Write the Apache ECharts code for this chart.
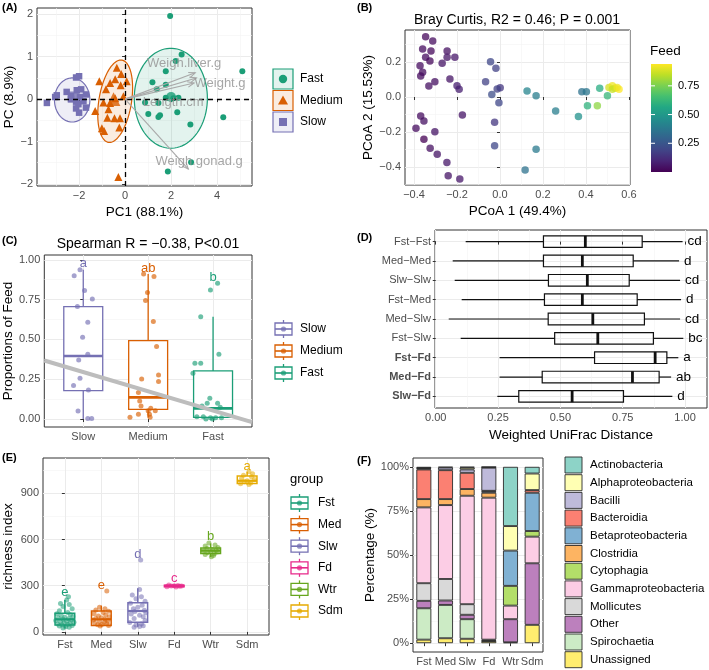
<!DOCTYPE html>
<html><head><meta charset="utf-8">
<script src="https://cdn.jsdelivr.net/npm/echarts@6/dist/echarts.min.js"></script>
<style>html,body{margin:0;padding:0;background:#fff}#c{width:709px;height:670px}</style>
</head><body><div id="c"></div>
<script>
// ================= DATA =================
// Panel A (PCA)
const aGroups = ['Fast', 'Medium', 'Slow'];
const aFast = [[1.96,1.96],[2.46,1.05],[2.2,0.9],[1.77,0.66],[5.1,0.66],[1.19,0.4],[1.77,0.34],[1.38,0.23],[1.77,0.03],[2.1,0.02],[2.32,0.03],[0.87,-0.08],[1.45,-0.09],[1.01,-0.35],[1.45,-0.42],[1.52,-0.38],[2.27,-0.31],[4.27,-0.43],[2.84,-0.6],[2.87,-1.49],[1.86,-1.71]];
const aMedium = [[-0.36,0.74],[-0.17,0.59],[0.07,0.42],[-0.43,0.47],[-1.12,0.42],[-0.65,0.38],[-0.19,0.33],[-0.83,0.23],[-0.43,0.02],[-0.94,-0.08],[-0.07,0.07],[-1.3,-0.28],[-0.72,-0.24],[-0.46,-0.45],[-0.77,-0.44],[-0.22,-0.45],[-0.25,-0.67],[-1.01,-0.69],[-0.91,-0.75],[-0.29,-1.84],[-0.65,-0.09]];
const aSlow = [[-3.4,-0.09],[-2.97,0.09],[-3.04,0.05],[-2.54,0.17],[-2.35,0.07],[-2.13,0.51],[-2.0,0.54],[-2.1,0.21],[-1.91,0.23],[-1.96,0.05],[-1.7,0.11],[-2.13,-0.06],[-1.81,-0.05],[-2.03,-0.12],[-1.7,-0.2],[-2.13,-0.22],[-2.0,-0.32],[-2.35,0.0]];
const aCentroids = [[2.0,0.05],[-0.5,0.0],[-2.25,0.05]];
// ellipses: center x, center y, semi-axis u (x,y), semi-axis v (x,y)
const aEllipses = [[1.99,0.02,1.59,0.0,0.0,1.18],[-0.43,-0.05,0.29,0.97,0.70,-0.06],[-2.3,-0.02,0.77,0.0,0.0,0.52]];
const aVarNames = ['Weigh.liver.g','Weight.g','Length.cm','Weigh.gonad.g'];
const aArrowEnds = [[3.05,0.62],[3.1,0.5],[3.0,0.38],[2.75,-1.65]];
const aLabelPos = [[2.57,0.85],[4.13,0.38],[2.09,-0.07],[3.22,-1.48]];

// Panel B (PCoA)
const bPC1 = [-0.346,-0.313,-0.36,-0.321,-0.246,-0.346,-0.246,-0.21,-0.326,-0.269,-0.372,-0.36,-0.369,-0.303,-0.233,-0.331,-0.2,-0.19,-0.044,-0.019,-0.067,0.001,-0.013,-0.038,-0.005,-0.175,-0.369,-0.354,-0.391,-0.303,-0.354,-0.025,-0.325,-0.292,-0.025,-0.247,0.126,0.168,0.168,0.117,0.259,0.365,0.381,0.402,0.464,0.407,0.453,0.5,0.507,0.523,0.535,0.554,0.523,0.545,-0.241,-0.187];
const bPC2 = [0.345,0.32,0.274,0.263,0.263,0.227,0.227,0.227,0.206,0.193,0.179,0.141,0.12,0.087,0.103,0.063,0.065,0.044,0.202,0.164,0.087,0.053,0.046,0.015,-0.033,-0.103,-0.109,-0.137,-0.179,-0.198,-0.242,-0.145,-0.293,-0.327,-0.278,-0.375,0.034,0.007,-0.299,-0.417,-0.08,-0.112,0.03,0.03,0.05,-0.05,-0.05,0.007,0.055,0.065,0.05,0.044,0.044,0.055,-0.45,-0.469];
const bFeed = [0.02,0.03,0.03,0.02,0.04,0.03,0.05,0.06,0.02,0.05,0.03,0.03,0.03,0.04,0.05,0.04,0.08,0.08,0.2,0.18,0.18,0.15,0.18,0.22,0.2,0.05,0.03,0.04,0.03,0.05,0.0,0.15,0.04,0.05,0.2,0.06,0.42,0.4,0.38,0.35,0.4,0.47,0.35,0.37,0.58,0.6,0.78,0.62,0.88,0.92,0.9,0.94,0.86,0.92,0.05,0.06];
const bFeedTicks = [0.25, 0.5, 0.75];

// Panel C (feed proportions)
const cCats = ['Slow','Medium','Fast'];
const cSlowVals = [0.90,0.937,0.807,0.753,0.706,0.608,0.514,0.407,0.371,0.256,0.21,0.182,0.05,0.004,0.004];
const cSlowJit  = [-0.14,-0.05,0.02,0.14,-0.09,0.07,-0.01,0.07,-0.07,-0.05,-0.15,0.08,-0.08,0.07,0.13];
const cMedVals = [0.91,0.895,0.794,0.744,0.612,0.455,0.252,0.277,0.235,0.166,0.113,0.082,0.067,0.052,0.052,0.03,0.03,0.011,0.011];
const cMedJit  = [-0.07,0.09,-0.01,-0.04,0.08,0.13,-0.1,0.16,0.16,-0.15,-0.13,-0.11,0.04,0.11,0.0,-0.15,0.02,-0.28,0.03];
const cFastVals = [0.853,0.811,0.643,0.407,0.35,0.35,0.287,0.13,0.099,0.099,0.082,0.074,0.015,0.015,0.008,0.008,0.008,0.0,0.0];
const cFastJit  = [0.07,-0.04,-0.19,0.09,-0.28,-0.19,-0.31,-0.05,-0.09,0.07,-0.17,0.11,-0.25,-0.15,-0.04,0.04,0.13,-0.11,-0.01];
// min, Q1, median, Q3, max
const cBoxes = [[0.0,0.178,0.396,0.706,0.937],[0.01,0.061,0.136,0.492,0.91],[0.0,0.011,0.067,0.302,0.643]];
const cLetters = ['a','ab','b'];
const cLetterY = [0.975,0.947,0.89];
const cFitIntercept = 0.295, cFitSlope = -0.121;

// Panel D (UniFrac)
const dCats = ['Fst−Fst','Med−Med','Slw−Slw','Fst−Med','Med−Slw','Fst−Slw','Fst−Fd','Med−Fd','Slw−Fd'];
const dBold = [false,false,false,false,false,false,true,true,true];
const dMin = [0.12,0.068,0.076,0.104,0.052,0.1,0.256,0.256,0.247];
const dQ1  = [0.432,0.432,0.452,0.436,0.451,0.477,0.637,0.427,0.333];
const dMed = [0.60,0.588,0.608,0.588,0.63,0.65,0.88,0.789,0.547];
const dQ3  = [0.828,0.792,0.776,0.808,0.837,0.873,0.927,0.896,0.753];
const dMax = [0.99,0.976,0.98,0.984,0.98,0.993,0.973,0.944,0.949];
const dLetters = ['cd','d','cd','d','cd','bc','a','ab','d'];

// Panel E (richness)
const eCats = ['Fst','Med','Slw','Fd','Wtr','Sdm'];
const eBoxes = [[24,45,82,121,208],[35,41,82,136,171],[34,63,136,190,284],[288,294,300,304,310],[487,510,528,545,575],[958,965,982,1013,1040]];
const eLetters = ['e','e','d','c','b','a'];
const eLetterY = [255,305,506,349,623,1073];
const eFstVals = [229,208,185,178,165,150,138,126,118,112,106,100,95,90,86,82,78,74,70,66,63,60,56,52,49,46,42,38,34,30,26];
const eFstJit  = [0.1,0.05,-0.12,0.12,-0.05,0.2,-0.15,0.08,-0.22,0.15,-0.1,0.22,0.0,-0.18,0.1,-0.05,0.18,-0.25,0.05,-0.12,0.25,-0.02,0.14,-0.2,0.08,-0.08,0.2,-0.15,0.02,0.12,-0.05];
const eMedVals = [266,160,150,142,134,126,118,110,104,98,92,87,82,77,72,67,62,58,54,50,46,42,38];
const eMedJit  = [0.15,-0.05,0.1,-0.15,0.2,0.05,-0.2,0.12,-0.08,0.22,0.0,-0.15,0.1,-0.22,0.18,-0.05,0.08,-0.18,0.15,0.02,-0.1,0.2,-0.03];
const eSlwVals = [468,275,240,228,215,200,186,174,160,150,140,132,124,116,108,98,88,75,62,52,45,40,35,30];
const eSlwJit  = [0.08,0.05,-0.15,0.1,-0.05,0.2,-0.2,0.12,0.0,-0.12,0.18,-0.08,0.22,-0.18,0.05,0.15,-0.1,0.2,-0.22,0.1,-0.05,0.15,0.05,-0.1];
const eFdVals = [305,302,300,299,298,296,294,292];
const eFdJit  = [-0.15,0.1,0.0,0.2,-0.08,0.15,-0.2,0.05];
const eWtrVals = [578,565,558,548,542,536,531,527,523,519,514,508,503,496,488];
const eWtrJit  = [-0.05,0.12,-0.15,0.2,-0.1,0.05,0.15,-0.2,0.0,0.18,-0.08,0.1,-0.15,0.08,0.02];
const eSdmVals = [1040,1028,1018,1008,998,990,982,975,968,962,958];
const eSdmJit  = [0.05,0.15,-0.1,0.12,-0.15,0.2,0.0,-0.08,0.1,-0.18,0.05];

// Panel F (taxonomy %) -- stacked bottom to top
const fSamples = ['Fst','Med','Slw','Fd','Wtr','Sdm'];
const fTaxaLegend = ['Actinobacteria','Alphaproteobacteria','Bacilli','Bacteroidia','Betaproteobacteria','Clostridia','Cytophagia','Gammaproteobacteria','Mollicutes','Other','Spirochaetia','Unassigned'];
const fUnassigned   = [2.0,2.8,2.5,1.2,0.5,10.4];
const fSpirochaetia = [17.8,18.9,11.1,0.3,0,0];
const fOther        = [4.2,2.5,2.5,0.5,13.1,34.9];
const fMollicutes   = [10.0,12.2,6.0,0,0,0];
const fGamma        = [43.0,41.9,61.5,80.5,7.7,15.1];
const fCytophagia   = [0,0,0,0,11.2,3.2];
const fClostridia   = [4.7,3.4,3.8,2.8,0,0];
const fBeta         = [0,0,0,0.8,20.0,21.7];
const fBacteroidia  = [16.8,16.4,9.2,0.3,0,1.5];
const fBacilli      = [0.5,1.5,1.9,13.1,0,0];
const fAlpha        = [0.3,0,1.1,0.3,13.9,9.4];
const fActino       = [0.7,0.4,0.4,0.2,33.6,3.8];

// ================= STYLE =================
const FF = "'Liberation Sans', Arial, Helvetica, sans-serif";
const TICKC = '#4d4d4d';
const COL3 = {Fast:'#1b9e77', Medium:'#d95f02', Slow:'#7570b3'};
const ECOL = ['#1b9e77','#d95f02','#7570b3','#e7298a','#66a61e','#e6ab02'];
const SET3 = {Actinobacteria:'#8dd3c7',Alphaproteobacteria:'#ffffb3',Bacilli:'#bebada',Bacteroidia:'#fb8072',Betaproteobacteria:'#80b1d3',Clostridia:'#fdb462',Cytophagia:'#b3de69',Gammaproteobacteria:'#fccde5',Mollicutes:'#d9d9d9',Other:'#bc80bd',Spirochaetia:'#ccebc5',Unassigned:'#ffed6f'};
const VIRIDIS = ['#440154','#482475','#414487','#355f8d','#2a788e','#21918c','#22a884','#44bf70','#7ad151','#bddf26','#fde725'];
function hexA(h, a){const r=parseInt(h.slice(1,3),16),g=parseInt(h.slice(3,5),16),b=parseInt(h.slice(5,7),16);return `rgba(${r},${g},${b},${a})`;}
function fmtNum(d){return v => (v < -1e-9 ? '−' : '') + Math.abs(v).toFixed(d);}
function fmtCat(names){return v => {const i=Math.round(v); return Math.abs(v-i)<1e-6 && names[i]!==undefined ? names[i] : '';};}
function range(n){return Array.from({length:n},(_, i)=>i);}

function axis(o){
  return {
    type:'value', gridIndex:o.grid, min:o.min, max:o.max, minInterval:o.step, maxInterval:o.step,
    inverse:!!o.inverse, position:o.pos,
    name:o.name||'', nameLocation:'middle', nameGap:o.nameGap||20,
    nameTextStyle:{fontFamily:FF, fontSize:13.5, color:'#000'},
    axisLine:{show:false},
    axisTick:{show:true, length:3, lineStyle:{color:'#333', width:1}, customValues:o.ticks},
    axisLabel:{show:true, customValues:o.ticks, formatter:o.fmt, color:TICKC, fontFamily:FF, fontSize:11, margin:4, rich:o.rich},
    splitLine:{show:true, lineStyle:{color:'#ebebeb', width:1}},
    minorTick:{show:false, splitNumber:2},
    minorSplitLine:{show:!!o.minor, lineStyle:{color:'#f3f3f3', width:0.6}}
  };
}

const grids = [
  {left:37, top:8, width:215, height:178},
  {left:405, top:30, width:225, height:155},
  {left:44, top:255, width:208, height:172},
  {left:435, top:230, width:272, height:178},
  {left:42, top:458, width:227, height:177},
  {left:413, top:458, width:130, height:194}
].map(g => Object.assign(g, {show:true, borderColor:'#333', borderWidth:1, backgroundColor:'#fff', containLabel:false}));

const xAxes = [
  axis({grid:0,min:-3.83,max:5.52,step:2,ticks:[-2,0,2,4],fmt:fmtNum(0),name:'PC1 (88.1%)',nameGap:19,minor:true}),
  axis({grid:1,min:-0.442,max:0.605,step:0.2,ticks:[-0.4,-0.2,0,0.2,0.4,0.6],fmt:fmtNum(1),name:'PCoA 1 (49.4%)',nameGap:19,minor:true}),
  axis({grid:2,min:-0.6,max:2.6,step:1,ticks:range(3),fmt:fmtCat(cCats)}),
  axis({grid:3,min:-0.003,max:1.088,step:0.25,ticks:[0,0.25,0.5,0.75,1],fmt:fmtNum(2),name:'Weighted UniFrac Distance',nameGap:20,minor:true}),
  axis({grid:4,min:-0.6,max:5.6,step:1,ticks:range(6),fmt:fmtCat(eCats)}),
  {type:'category', gridIndex:5, data:fSamples, boundaryGap:true,
   axisLine:{show:false}, axisTick:{show:true, alignWithLabel:true, length:3, lineStyle:{color:'#333', width:1}},
   axisLabel:{color:TICKC, fontFamily:FF, fontSize:11, margin:4, interval:0}, splitLine:{show:false}}
];
const dRich = {n:{fontFamily:FF,fontSize:11,color:TICKC}, b:{fontFamily:FF,fontSize:11,color:TICKC,fontWeight:'bold'}};
const yAxes = [
  axis({grid:0,min:-2.05,max:2.15,step:1,ticks:[-2,-1,0,1,2],fmt:fmtNum(0),name:'PC (8.9%)',nameGap:20,minor:true}),
  axis({grid:1,min:-0.503,max:0.383,step:0.2,ticks:[-0.4,-0.2,0,0.2],fmt:fmtNum(1),name:'PCoA 2 (15.53%)',nameGap:28,minor:true}),
  axis({grid:2,min:-0.05,max:1.03,step:0.25,ticks:[0,0.25,0.5,0.75,1],fmt:fmtNum(2),name:'Proportions of Feed',nameGap:27,minor:true}),
  axis({grid:3,min:-0.6,max:8.6,step:1,inverse:true,ticks:range(9),rich:dRich,
        fmt:v=>{const i=Math.round(v); if(Math.abs(v-i)>1e-6||!dCats[i]) return ''; return dBold[i]?`{b|${dCats[i]}}`:`{n|${dCats[i]}}`;}}),
  axis({grid:4,min:-20,max:1130,step:300,ticks:[0,300,600,900],fmt:fmtNum(0),name:'richness index',nameGap:28,minor:true}),
  axis({grid:5,min:-5,max:105,step:25,ticks:[0,25,50,75,100],fmt:v=>Math.round(v)+'%',name:'Percentage (%)',nameGap:34,minor:true})
];

function boxRender(horiz, halfW, colorFn, lw, medW, fillCol){
  return (params, api)=>{
    const c=api.value(0), mn=api.value(1), q1=api.value(2), md=api.value(3), q3=api.value(4), mx=api.value(5);
    const P=(v,o)=>horiz?api.coord([v,c+o]):api.coord([c+o,v]);
    const a=P(q1,-halfW), b=P(q3,halfW);
    const col=colorFn(params.dataIndex);
    const w1=P(mn,0), w2=P(q1,0), w3=P(q3,0), w4=P(mx,0), m1=P(md,-halfW), m2=P(md,halfW);
    return {type:'group', children:[
      {type:'line', shape:{x1:w1[0],y1:w1[1],x2:w2[0],y2:w2[1]}, style:{stroke:col,lineWidth:lw}},
      {type:'line', shape:{x1:w3[0],y1:w3[1],x2:w4[0],y2:w4[1]}, style:{stroke:col,lineWidth:lw}},
      {type:'rect', shape:{x:Math.min(a[0],b[0]),y:Math.min(a[1],b[1]),width:Math.abs(a[0]-b[0]),height:Math.abs(a[1]-b[1])}, style:{fill:fillCol,stroke:col,lineWidth:lw}},
      {type:'line', shape:{x1:m1[0],y1:m1[1],x2:m2[0],y2:m2[1]}, style:{stroke:col,lineWidth:medW}}
    ]};
  };
}
function textSeries(gi, pts, textFn, colFn, align, size){
  return {type:'custom', xAxisIndex:gi, yAxisIndex:gi, silent:true, z:6, data:pts, encode:{x:0,y:1},
    renderItem:(params, api)=>{const p=api.coord(pts[params.dataIndex]);
      return {type:'text', x:p[0], y:p[1], style:{text:textFn(params.dataIndex), fill:colFn(params.dataIndex), fontSize:size, fontFamily:FF, align, verticalAlign:'middle'}};}};
}

const series = [];
// ---------- Panel A ----------
series.push({
  type:'custom', xAxisIndex:0, yAxisIndex:0, silent:true, z:1,
  data: aEllipses, encode:{x:0,y:1},
  renderItem:(params, api)=>{
    const e = aEllipses[params.dataIndex], c = COL3[aGroups[params.dataIndex]];
    const pts=[];
    for(let k=0;k<90;k++){const t=k/90*2*Math.PI; pts.push(api.coord([e[0]+Math.cos(t)*e[2]+Math.sin(t)*e[4], e[1]+Math.cos(t)*e[3]+Math.sin(t)*e[5]]));}
    return {type:'polygon', shape:{points:pts}, style:{fill:hexA(c,0.12), stroke:c, lineWidth:1.2}};
  }
});
const aSym = {Fast:'circle', Medium:'triangle', Slow:'rect'};
const aSize = {Fast:6, Medium:8, Slow:6.5};
[aFast, aMedium, aSlow].forEach((pts, gi)=>{
  const g = aGroups[gi];
  series.push({type:'scatter', xAxisIndex:0, yAxisIndex:0, z:3, silent:true, data:pts, symbol:aSym[g], symbolSize:aSize[g], itemStyle:{color:COL3[g], opacity:1}});
  series.push({type:'scatter', xAxisIndex:0, yAxisIndex:0, z:3, silent:true, data:[aCentroids[gi]], symbol:aSym[g], symbolSize:aSize[g]*1.7, itemStyle:{color:COL3[g]}});
});
series.push({type:'line', xAxisIndex:0, yAxisIndex:0, data:[], z:4, silent:true,
  markLine:{silent:true, symbol:'none', animation:false, label:{show:false}, lineStyle:{color:'#000', type:[5,4], width:1.3},
    data:[{xAxis:0},{yAxis:0}]}});
series.push({
  type:'custom', xAxisIndex:0, yAxisIndex:0, silent:true, z:5, data:aArrowEnds, encode:{x:0,y:1},
  renderItem:(params, api)=>{
    const o = api.coord([0,0]), p = api.coord(aArrowEnds[params.dataIndex]);
    const ang = Math.atan2(p[1]-o[1], p[0]-o[0]), L=7, s=0.4;
    const h1=[p[0]-L*Math.cos(ang-s), p[1]-L*Math.sin(ang-s)], h2=[p[0]-L*Math.cos(ang+s), p[1]-L*Math.sin(ang+s)];
    const st={stroke:'#a9a9a9', lineWidth:1.1, fill:null};
    return {type:'group', children:[
      {type:'line', shape:{x1:o[0],y1:o[1],x2:p[0],y2:p[1]}, style:st},
      {type:'polyline', shape:{points:[h1,p,h2]}, style:st}
    ]};
  }
});
series.push({
  type:'custom', xAxisIndex:0, yAxisIndex:0, silent:true, z:6, data:aLabelPos, encode:{x:0,y:1},
  renderItem:(params, api)=>{const p=api.coord(aLabelPos[params.dataIndex]);
    return {type:'text', x:p[0], y:p[1], style:{text:aVarNames[params.dataIndex], fill:'rgba(150,150,150,0.85)', fontSize:13, fontFamily:FF, align:'center', verticalAlign:'middle'}};}
});
// ---------- Panel B ----------
const bSeriesIndex = series.length;
series.push({type:'scatter', xAxisIndex:1, yAxisIndex:1, silent:true, symbolSize:7.5,
  data: bPC1.map((x,i)=>[x,bPC2[i],bFeed[i]]), itemStyle:{opacity:0.75}});
const bMin = 0, bMax = 0.94;
// ---------- Panel C ----------
series.push({
  type:'custom', xAxisIndex:2, yAxisIndex:2, silent:true, z:2,
  data: cBoxes.map((b,i)=>[i].concat(b)), encode:{x:0,y:[1,2,3,4,5]},
  renderItem: boxRender(false, 0.3, i=>COL3[cCats[i]], 1.3, 2.6, '#fff')
});
[[cSlowVals,cSlowJit],[cMedVals,cMedJit],[cFastVals,cFastJit]].forEach((vj,i)=>{
  series.push({type:'scatter', xAxisIndex:2, yAxisIndex:2, silent:true, z:3, symbolSize:5,
    data: vj[0].map((v,k)=>[i+vj[1][k], v]), itemStyle:{color:COL3[cCats[i]], opacity:0.65}});
});
series.push({type:'line', xAxisIndex:2, yAxisIndex:2, silent:true, z:4, symbol:'none',
  data:[-0.6,2.6].map(x=>[x, cFitIntercept + cFitSlope*x]), lineStyle:{color:'#bdbdbd', width:4}});
series.push(textSeries(2, cLetters.map((l,i)=>[i, cLetterY[i]]), i=>cLetters[i], i=>COL3[cCats[i]], 'center', 13));
// ---------- Panel D ----------
series.push({
  type:'custom', xAxisIndex:3, yAxisIndex:3, silent:true, z:2,
  data: dCats.map((c,i)=>[i,dMin[i],dQ1[i],dMed[i],dQ3[i],dMax[i]]), encode:{y:0,x:[1,2,3,4,5]},
  renderItem: boxRender(true, 0.3, ()=>'#111', 1.2, 2.8, 'rgba(255,255,255,0)')
});
series.push(textSeries(3, dCats.map((c,i)=>[dMax[i]+0.02, i]), i=>dLetters[i], ()=>'#000', 'left', 13.5));
// ---------- Panel E ----------
series.push({
  type:'custom', xAxisIndex:4, yAxisIndex:4, silent:true, z:2,
  data: eBoxes.map((b,i)=>[i].concat(b)), encode:{x:0,y:[1,2,3,4,5]},
  renderItem: boxRender(false, 0.27, i=>ECOL[i], 1.5, 2.2, '#fff')
});
[[eFstVals,eFstJit],[eMedVals,eMedJit],[eSlwVals,eSlwJit],[eFdVals,eFdJit],[eWtrVals,eWtrJit],[eSdmVals,eSdmJit]].forEach((vj,i)=>{
  series.push({type:'scatter', xAxisIndex:4, yAxisIndex:4, silent:true, z:3, symbolSize:5,
    data: vj[0].map((v,k)=>[i+vj[1][k], v]), itemStyle:{color:ECOL[i], opacity:0.55}});
});
series.push(textSeries(4, eLetters.map((l,i)=>[i, eLetterY[i]]), i=>eLetters[i], i=>ECOL[i], 'center', 13));
// ---------- Panel F ----------
const fStack = [['Unassigned',fUnassigned],['Spirochaetia',fSpirochaetia],['Other',fOther],['Mollicutes',fMollicutes],['Gammaproteobacteria',fGamma],['Cytophagia',fCytophagia],['Clostridia',fClostridia],['Betaproteobacteria',fBeta],['Bacteroidia',fBacteroidia],['Bacilli',fBacilli],['Alphaproteobacteria',fAlpha],['Actinobacteria',fActino]];
fStack.forEach(([name, vals])=>{
  series.push({type:'bar', name, xAxisIndex:5, yAxisIndex:5, stack:'f', silent:true, barWidth:15,
    data: vals.map(v=>({value:v, itemStyle: v>0?{}:{borderWidth:0}})),
    itemStyle:{color:SET3[name], borderColor:'#2b2b2b', borderWidth:0.9}});
});

// ================= GRAPHIC (titles, tags, legends) =================
const G = [];
function T(x,y,s,o={}){G.push({type:'text', x, y, silent:true, style:{text:s, fill:o.fill||'#000', fontSize:o.size||12, fontFamily:FF, fontWeight:o.weight||'normal', align:o.align||'left', verticalAlign:o.va||'middle'}});}
[['(A)',2,8],['(B)',357,8],['(C)',2,241],['(D)',357,238],['(E)',2,458],['(F)',357,461]].forEach(t=>T(t[1],t[2],t[0],{weight:'bold',size:11}));
T(517,20,'Bray Curtis, R2 = 0.46; P = 0.001',{align:'center',size:14});
T(148,244,'Spearman R = −0.38, P<0.01',{align:'center',size:14});
// legend A
aGroups.forEach((g,i)=>{
  const cy=79+i*21.5, cx=283, c=COL3[g];
  G.push({type:'rect', silent:true, shape:{x:273,y:cy-10,width:20,height:20}, style:{fill:hexA(c,0.12), stroke:c, lineWidth:1.2}});
  if(g==='Fast') G.push({type:'circle', silent:true, shape:{cx,cy,r:4.2}, style:{fill:c}});
  if(g==='Medium') G.push({type:'polygon', silent:true, shape:{points:[[cx,cy-5],[cx+5,cy+4],[cx-5,cy+4]]}, style:{fill:c}});
  if(g==='Slow') G.push({type:'rect', silent:true, shape:{x:cx-4,y:cy-4,width:8,height:8}, style:{fill:c}});
  T(300,cy,g,{size:12});
});
// colorbar B
T(650,51,'Feed',{size:13.5});
const cbX=651, cbY=64, cbW=21, cbH=108;
G.push({type:'rect', silent:true, shape:{x:cbX,y:cbY,width:cbW,height:cbH}, style:{fill:new echarts.graphic.LinearGradient(0,1,0,0, VIRIDIS.map((c,i)=>({offset:i/(VIRIDIS.length-1), color:c})))}});
bFeedTicks.forEach(v=>{
  const y = cbY + cbH*(bMax-v)/(bMax-bMin);
  G.push({type:'line', silent:true, shape:{x1:cbX,y1:y,x2:cbX+4,y2:y}, style:{stroke:'#fff',lineWidth:1}});
  G.push({type:'line', silent:true, shape:{x1:cbX+cbW-4,y1:y,x2:cbX+cbW,y2:y}, style:{stroke:'#fff',lineWidth:1}});
  T(678,y,v.toFixed(2),{size:11});
});
function boxKey(x,cy,w,c){
  G.push({type:'line', silent:true, shape:{x1:x+w/2,y1:cy-9,x2:x+w/2,y2:cy+9}, style:{stroke:c,lineWidth:1.3}});
  G.push({type:'rect', silent:true, shape:{x:x,y:cy-6,width:w,height:12}, style:{fill:'#fff',stroke:c,lineWidth:1.3}});
  G.push({type:'line', silent:true, shape:{x1:x,y1:cy,x2:x+w,y2:cy}, style:{stroke:c,lineWidth:1.6}});
  G.push({type:'circle', silent:true, shape:{cx:x+w/2,cy:cy,r:2.6}, style:{fill:c, opacity:0.75}});
}
cCats.forEach((g,i)=>{const cy=329+i*22; boxKey(275,cy,17,COL3[g]); T(300,cy,g,{size:12});});
T(290,479,'group',{size:13});
eCats.forEach((g,i)=>{const cy=503+i*21.6; boxKey(291,cy,17,ECOL[i]); T(318,cy,g,{size:12});});
fTaxaLegend.forEach((t,i)=>{const cy=465+i*17.7;
  G.push({type:'rect', silent:true, shape:{x:565,y:cy-8,width:17,height:16}, style:{fill:SET3[t],stroke:'#2b2b2b',lineWidth:0.9}});
  T(590,cy,t,{size:11.5});
});

const option = {
  animation:false,
  backgroundColor:'#fff',
  textStyle:{fontFamily:FF},
  grid:grids, xAxis:xAxes, yAxis:yAxes,
  visualMap:[{type:'continuous', show:false, seriesIndex:bSeriesIndex, dimension:2, min:bMin, max:bMax, inRange:{color:VIRIDIS}}],
  series, graphic:G
};
const chart = echarts.init(document.getElementById('c'));
chart.setOption(option);
</script></body></html>
